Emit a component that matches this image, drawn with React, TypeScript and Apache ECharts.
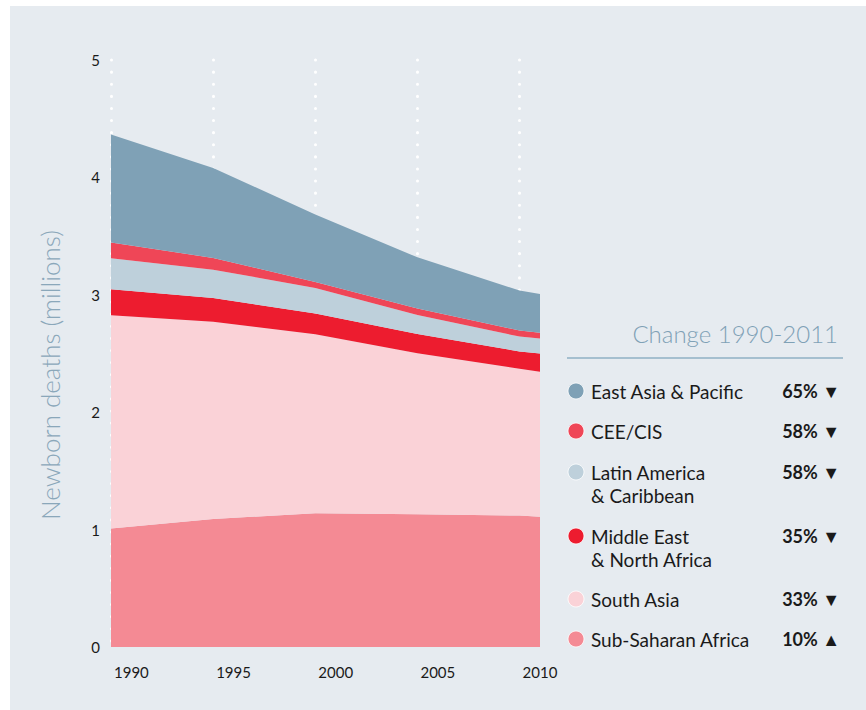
import React, { useEffect, useRef } from "react";
import * as echarts from "echarts";

const years = [1990, 1995, 2000, 2005, 2010, 2011];
const subSaharanAfrica = [1.01, 1.09, 1.14, 1.13, 1.12, 1.11];
const southAsia = [1.815, 1.68, 1.523, 1.372, 1.25, 1.235];
const middleEastNorthAfrica = [0.222, 0.202, 0.178, 0.165, 0.147, 0.156];
const latinAmericaCaribbean = [0.265, 0.242, 0.217, 0.161, 0.127, 0.127];
const ceeCis = [0.133, 0.1, 0.051, 0.056, 0.052, 0.048];
const eastAsiaPacific = [0.92, 0.766, 0.576, 0.435, 0.34, 0.33];

const yTicks = [0, 1, 2, 3, 4, 5];
const xTickInterval = 5;

// legend (top to bottom)
const legendNames = [
  "East Asia & Pacific",
  "CEE/CIS",
  "Latin America\n& Caribbean",
  "Middle East\n& North Africa",
  "South Asia",
  "Sub-Saharan Africa",
];
const legendChanges = ["65%", "58%", "58%", "35%", "33%", "10%"];
const legendArrows = ["▼", "▼", "▼", "▼", "▼", "▲"];
const legendTitle = "Change 1990-2011";
const yAxisTitle = "Newborn deaths (millions)";

const colors = {
  eap: "#7fa1b6",
  cee: "#ef4657",
  lac: "#bed0db",
  mena: "#ed1c2f",
  sa: "#fad2d7",
  ssa: "#f48a94",
};
const legendColors = [colors.eap, colors.cee, colors.lac, colors.mena, colors.sa, colors.ssa];

const FONT = "Lato, 'Open Sans', sans-serif";

export default function App() {
  const ref = useRef<HTMLDivElement>(null);

  useEffect(() => {
    if (!ref.current) return;
    const chart = echarts.init(ref.current, undefined, { renderer: "svg" });

    const stackSeries = [
      { name: "Sub-Saharan Africa", data: subSaharanAfrica, color: colors.ssa },
      { name: "South Asia", data: southAsia, color: colors.sa },
      { name: "Middle East & North Africa", data: middleEastNorthAfrica, color: colors.mena },
      { name: "Latin America & Caribbean", data: latinAmericaCaribbean, color: colors.lac },
      { name: "CEE/CIS", data: ceeCis, color: colors.cee },
      { name: "East Asia & Pacific", data: eastAsiaPacific, color: colors.eap },
    ].map((s) => ({
      name: s.name,
      type: "line",
      stack: "total",
      showSymbol: false,
      symbol: "none",
      encode: { x: 1, y: 0 },
      lineStyle: { width: 0, color: s.color },
      areaStyle: { color: s.color, opacity: 1 },
      itemStyle: { color: s.color },
      // value first so that the stack is computed on the value dimension
      data: years.map((y, i) => [s.data[i], y]),
    }));

    const rowY = [385, 425, 466, 530, 593, 633];
    const graphics: any[] = [
      {
        type: "text",
        x: 40,
        y: 369,
        rotation: Math.PI / 2,
        style: {
          text: yAxisTitle,
          fill: "#8aa7ba",
          font: `300 26px ${FONT}`,
          align: "center",
          verticalAlign: "middle",
        },
      },
      {
        type: "text",
        x: 828,
        y: 327,
        style: {
          text: legendTitle,
          fill: "#7fa1b6",
          font: `300 24px ${FONT}`,
          align: "right",
          verticalAlign: "middle",
        },
      },
      {
        type: "line",
        shape: { x1: 557, y1: 352, x2: 833, y2: 352 },
        style: { stroke: "#8fb0c4", lineWidth: 1.5 },
      },
    ];
    legendNames.forEach((name, i) => {
      graphics.push({
        type: "circle",
        shape: { cx: 566, cy: rowY[i], r: 8 },
        style: { fill: legendColors[i], stroke: "#ffffff", lineWidth: 0.8 },
      });
      graphics.push({
        type: "text",
        x: 581,
        y: rowY[i] - 11.75,
        style: {
          text: name,
          fill: "#1a1a1a",
          font: `19px ${FONT}`,
          lineHeight: 23.5,
          align: "left",
          verticalAlign: "top",
        },
      });
      graphics.push({
        type: "text",
        x: 830,
        y: rowY[i],
        style: {
          text: `${legendChanges[i]} ${legendArrows[i]}`,
          fill: "#1a1a1a",
          font: `bold 18px ${FONT}`,
          align: "right",
          verticalAlign: "middle",
        },
      });
    });

    chart.setOption({
      animation: false,
      backgroundColor: "#e6ebf0",
      grid: { left: 101, right: 326, top: 54, bottom: 63, containLabel: false },
      xAxis: {
        type: "value",
        min: years[0],
        max: years[years.length - 1],
        interval: xTickInterval,
        axisLine: { show: false },
        axisTick: { show: false },
        axisLabel: {
          color: "#1a1a1a",
          fontSize: 15,
          fontFamily: FONT,
          align: "left",
          margin: 17,
          padding: [0, 0, 0, 3],
          showMaxLabel: false,
          formatter: (v: number) => String(v),
        },
        splitLine: {
          show: true,
          showMaxLine: false,
          lineStyle: { color: "#ffffff", width: 3, type: [0.1, 12], cap: "round" },
        },
      },
      yAxis: {
        type: "value",
        min: yTicks[0],
        max: yTicks[yTicks.length - 1],
        interval: 1,
        axisLine: { show: false },
        axisTick: { show: false },
        axisLabel: { color: "#1a1a1a", fontSize: 15, fontFamily: FONT, margin: 11 },
        splitLine: { show: false },
      },
      series: stackSeries,
      graphic: graphics,
    });

    return () => chart.dispose();
  }, []);

  return (
    <div style={{ position: "absolute", left: 0, top: 0, width: 866, height: 710, background: "#ffffff" }}>
      <div ref={ref} style={{ position: "absolute", left: 10, top: 6, width: 856, height: 704 }} />
    </div>
  );
}
